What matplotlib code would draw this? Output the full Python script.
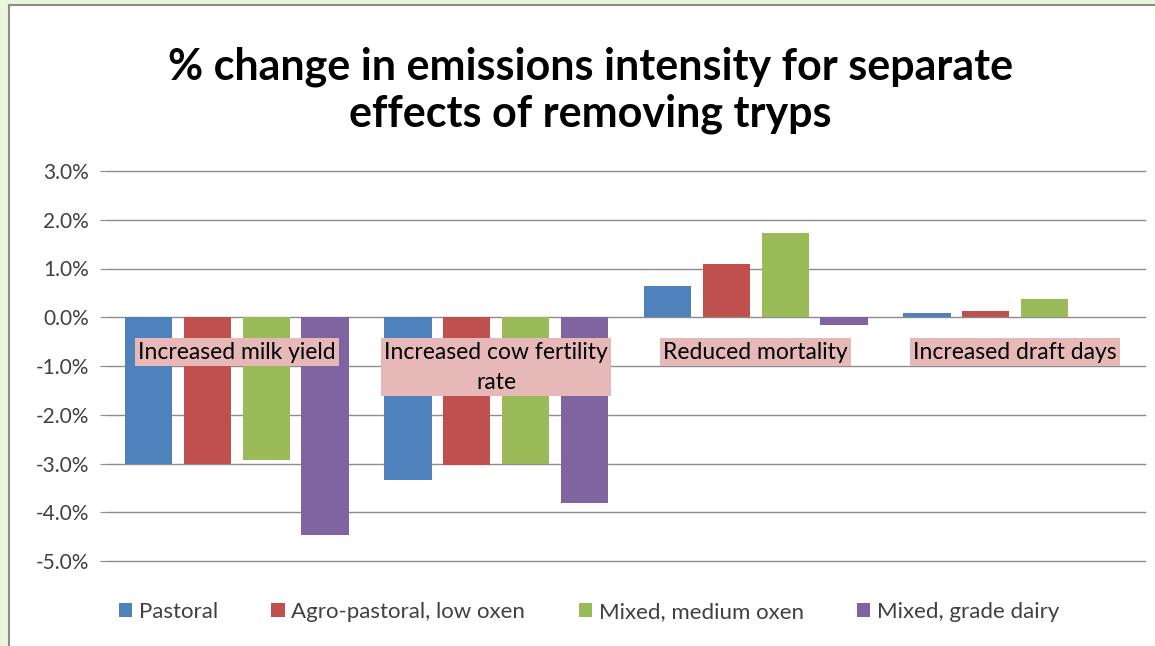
import matplotlib.pyplot as plt
import matplotlib.patches as mpatches
import numpy as np

plt.rcParams['font.family'] = ['Lato', 'DejaVu Sans']

categories = ["Increased milk yield", "Increased cow fertility\nrate",
              "Reduced mortality", "Increased draft days"]
series = ["Pastoral", "Agro-pastoral, low oxen", "Mixed, medium oxen", "Mixed, grade dairy"]
pastoral = [-3.0, -3.33, 0.65, 0.08]
agro_pastoral = [-3.0, -3.03, 1.1, 0.13]
mixed_medium = [-2.92, -3.0, 1.72, 0.38]
mixed_dairy = [-4.47, -3.82, -0.15, 0.0]
colors = ["#4F81BD", "#C0504D", "#9BBB59", "#8064A2"]
yticks = [3, 2, 1, 0, -1, -2, -3, -4, -5]

fig = plt.figure(figsize=(11.55, 6.46), dpi=100)
fig.patch.set_facecolor("#EAF6DC")
# white chart area with grey frame
fig.patches.append(mpatches.Rectangle((9 / 1155, -0.01), 1.1, 1.0 - 5 / 646 + 0.01,
                                      transform=fig.transFigure, facecolor="white",
                                      edgecolor="#8C8C8C", linewidth=1.5, zorder=0))

ax = fig.add_axes([107 / 1155, (646 - 561) / 646, (1145 - 107) / 1155, (561 - 171) / 646])
ax.set_facecolor("none")
ax.set_zorder(2)

x = np.arange(len(categories))
step = 0.227
width = 0.182
for i, (vals, name) in enumerate(zip([pastoral, agro_pastoral, mixed_medium, mixed_dairy], series)):
    ax.bar(x + (i - 1.5) * step, vals, width, color=colors[i], label=name, zorder=2)

ax.set_xlim(-0.5, 3.5)
ax.set_ylim(-5, 3)
ax.set_yticks(yticks)
ax.set_yticklabels([f"{v:.1f}%" for v in yticks], fontsize=15, color="#404040")
ax.set_xticks([])
for v in yticks:
    ax.axhline(v, color="#8C8C8C", linewidth=1, zorder=0, clip_on=False)
ax.tick_params(axis="y", length=5, color="#8C8C8C", pad=8)
for s in ["top", "right", "bottom", "left"]:
    ax.spines[s].set_visible(False)

for xi, cat in zip(x, categories):
    ax.text(xi, -0.5, cat, ha="center", va="top", fontsize=16.5, color="black",
            linespacing=1.55, zorder=3,
            bbox=dict(boxstyle="square,pad=0.14", facecolor="#E6B9B8", edgecolor="none"))

fig.text(0.511, 0.86, "% change in emissions intensity for separate\neffects of removing tryps",
         ha="center", va="center", fontsize=31, fontweight="bold", linespacing=1.2)

leg = fig.legend(loc="center", bbox_to_anchor=(0.51, 1 - 612 / 646), ncol=4, frameon=False,
                 fontsize=16, handlelength=0.6, handleheight=0.6, handletextpad=0.3,
                 columnspacing=2.4)
for t in leg.get_texts():
    t.set_color("#404040")

fig.savefig("out.png", dpi=100, facecolor=fig.get_facecolor())
